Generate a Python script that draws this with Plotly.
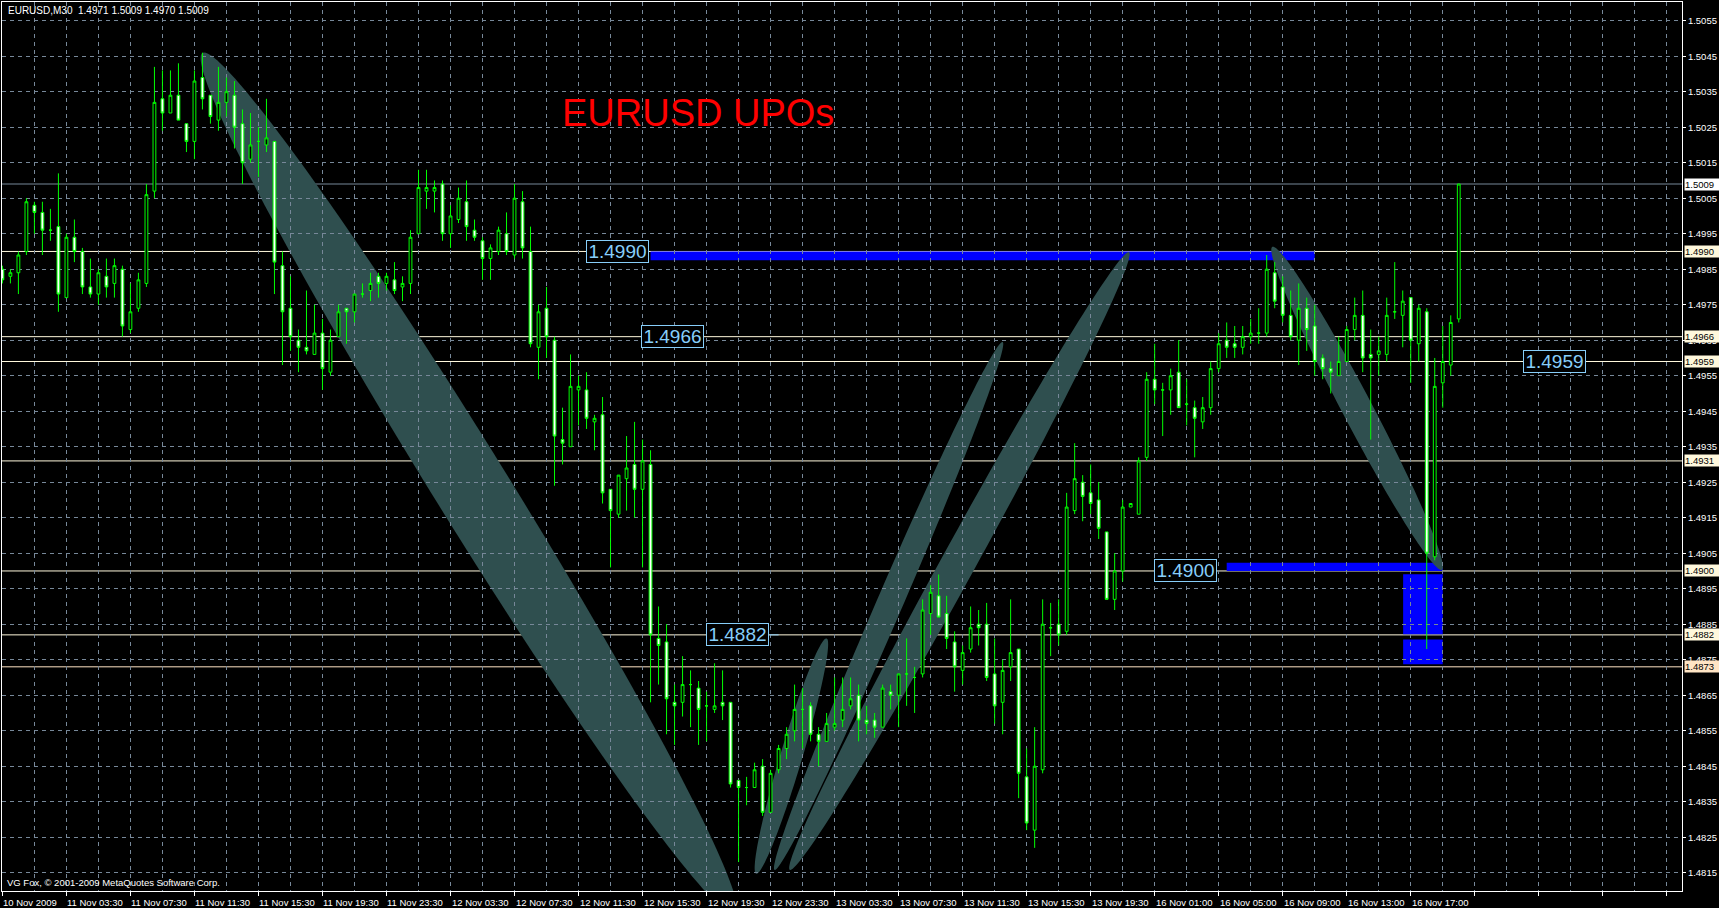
import math
import plotly.graph_objects as go

# ---------------- data ----------------
OPEN = [1.4985,1.4983,1.4984,1.4990,1.5003,1.5001,1.4996,1.4997,1.4977,1.4994,
        1.4990,1.4980,1.4978,1.4983,1.4981,1.4985,1.4968,1.4974,1.4981,1.5007,
        1.5033,1.5029,1.5034,1.5026,1.5021,1.5039,1.5034,1.5027,1.5032,1.5034,
        1.5026,1.5016,1.5021,1.5020,1.5021,1.4986,1.4974,1.4965,1.4963,1.4961,
        1.4967,1.4956,1.4966,1.4974,1.4973,1.4978,1.4979,1.4983,1.4981,1.4982,
        1.4980,1.4981,1.4995,1.5007,1.5007,1.5009,1.4995,1.4999,1.5004,1.4996,
        1.4993,1.4988,1.4990,1.4995,1.4989,1.5004,1.4990,1.4963,1.4974,1.4965,
        1.4937,1.4935,1.4951,1.4951,1.4942,1.4944,1.4923,1.4916,1.4926,1.4930,
        1.4923,1.4930,1.4881,1.4880,1.4863,1.4863,1.4868,1.4867,1.4862,1.4861,
        1.4863,1.4863,1.4841,1.4839,1.4839,1.4845,1.4832,1.4844,1.4850,1.4855,
        1.4861,1.4862,1.4854,1.4852,1.4856,1.4858,1.4862,1.4865,1.4858,1.4858,
        1.4856,1.4866,1.4865,1.4871,1.4870,1.4871,1.4888,1.4893,1.4888,1.4880,
        1.4872,1.4878,1.4885,1.4885,1.4871,1.4863,1.4873,1.4878,1.4842,1.4827,
        1.4844,1.4884,1.4885,1.4883,1.4917,1.4925,1.4922,1.4920,1.4911,1.4892,
        1.4900,1.4918,1.4916,1.4932,1.4954,1.4951,1.4951,1.4956,1.4947,1.4946,
        1.4942,1.4946,1.4957,1.4965,1.4964,1.4963,1.4966,1.4967,1.4967,1.4984,
        1.4980,1.4972,1.4965,1.4974,1.4969,1.4960,1.4957,1.4955,1.4959,1.4968,
        1.4972,1.4961,1.4961,1.4961,1.4973,1.4972,1.4977,1.4964,1.4973,1.4904,
        1.4953,1.4958,1.4971]
HIGH = [1.4986,1.4985,1.4990,1.5005,1.5004,1.5004,1.5002,1.5012,1.4995,1.4999,
        1.4991,1.4988,1.4985,1.4988,1.4988,1.4986,1.4981,1.4984,1.5009,1.5042,
        1.5041,1.5041,1.5043,1.5026,1.5041,1.5046,1.5034,1.5042,1.5039,1.5038,
        1.5030,1.5029,1.5025,1.5033,1.5021,1.4990,1.4983,1.4968,1.4979,1.4975,
        1.4971,1.4968,1.4975,1.4974,1.4978,1.4981,1.4984,1.4984,1.4984,1.4987,
        1.4983,1.4996,1.5013,1.5013,1.5010,1.5010,1.5003,1.5008,1.5010,1.4999,
        1.4994,1.4992,1.4997,1.5001,1.5009,1.5007,1.4997,1.4975,1.4980,1.4966,
        1.4946,1.4961,1.4955,1.4956,1.4944,1.4949,1.4923,1.4927,1.4938,1.4942,
        1.4937,1.4934,1.4890,1.4885,1.4868,1.4876,1.4872,1.4869,1.4866,1.4874,
        1.4872,1.4863,1.4841,1.4842,1.4846,1.4847,1.4844,1.4851,1.4856,1.4868,
        1.4867,1.4863,1.4856,1.4860,1.4870,1.4870,1.4870,1.4868,1.4862,1.4860,
        1.4868,1.4868,1.4871,1.4881,1.4873,1.4892,1.4896,1.4899,1.4893,1.4883,
        1.4879,1.4890,1.4889,1.4891,1.4881,1.4875,1.4892,1.4878,1.4850,1.4856,
        1.4892,1.4891,1.4892,1.4922,1.4936,1.4927,1.4930,1.4925,1.4911,1.4905,
        1.4920,1.4919,1.4932,1.4956,1.4964,1.4953,1.4957,1.4965,1.4954,1.4948,
        1.4949,1.4959,1.4967,1.4970,1.4969,1.4969,1.4971,1.4974,1.4989,1.4987,
        1.4983,1.4979,1.4981,1.4977,1.4975,1.4961,1.4959,1.4966,1.4969,1.4977,
        1.4979,1.4968,1.4966,1.4977,1.4987,1.4979,1.4977,1.4975,1.4974,1.4960,
        1.4969,1.4972,1.5009]
LOW = [1.4981,1.4981,1.4978,1.4989,1.4995,1.4989,1.4993,1.4973,1.4977,1.4987,
       1.4978,1.4977,1.4975,1.4977,1.4977,1.4966,1.4967,1.4973,1.4980,1.5005,
       1.5024,1.5029,1.5027,1.5018,1.5016,1.5030,1.5026,1.5024,1.5028,1.5019,
       1.5009,1.5015,1.5011,1.5018,1.4978,1.4958,1.4962,1.4956,1.4961,1.4961,
       1.4951,1.4955,1.4966,1.4964,1.4970,1.4977,1.4976,1.4977,1.4979,1.4978,
       1.4976,1.4978,1.4995,1.5002,1.5001,1.4993,1.4991,1.4998,1.4993,1.4993,
       1.4982,1.4982,1.4989,1.4989,1.4988,1.4988,1.4963,1.4954,1.4960,1.4924,
       1.4930,1.4935,1.4941,1.4940,1.4934,1.4919,1.4901,1.4915,1.4917,1.4915,
       1.4901,1.4863,1.4868,1.4854,1.4851,1.4859,1.4856,1.4851,1.4852,1.4860,
       1.4858,1.4839,1.4818,1.4834,1.4839,1.4831,1.4832,1.4843,1.4847,1.4852,
       1.4850,1.4852,1.4845,1.4852,1.4855,1.4856,1.4861,1.4852,1.4854,1.4853,
       1.4856,1.4861,1.4856,1.4862,1.4860,1.4870,1.4882,1.4887,1.4878,1.4866,
       1.4868,1.4877,1.4879,1.4869,1.4857,1.4854,1.4869,1.4836,1.4827,1.4822,
       1.4843,1.4876,1.4879,1.4882,1.4916,1.4914,1.4916,1.4909,1.4892,1.4889,
       1.4897,1.4918,1.4916,1.4931,1.4947,1.4938,1.4944,1.4946,1.4941,1.4932,
       1.4940,1.4944,1.4956,1.4960,1.4960,1.4961,1.4964,1.4964,1.4966,1.4974,
       1.4970,1.4965,1.4958,1.4962,1.4955,1.4954,1.4950,1.4955,1.4959,1.4965,
       1.4956,1.4937,1.4955,1.4959,1.4971,1.4963,1.4953,1.4959,1.4878,1.4903,
       1.4946,1.4955,1.4970]
CLOSE = [1.4982,1.4984,1.4989,1.5004,1.5001,1.4996,1.4996,1.4978,1.4994,1.4990,
         1.4980,1.4978,1.4984,1.4980,1.4986,1.4969,1.4973,1.4982,1.5006,1.5032,
         1.5029,1.5034,1.5027,1.5021,1.5038,1.5033,1.5028,1.5032,1.5035,1.5025,
         1.5015,1.5020,1.5021,1.5022,1.4987,1.4973,1.4966,1.4963,1.4962,1.4967,
         1.4957,1.4965,1.4973,1.4973,1.4978,1.4978,1.4981,1.4981,1.4983,1.4979,
         1.4981,1.4994,1.5008,1.5008,1.5008,1.4995,1.5000,1.5005,1.4997,1.4994,
         1.4988,1.4991,1.4996,1.4990,1.5005,1.4991,1.4964,1.4973,1.4966,1.4938,
         1.4936,1.4952,1.4952,1.4943,1.4943,1.4922,1.4917,1.4927,1.4929,1.4923,
         1.4931,1.4882,1.4879,1.4864,1.4862,1.4868,1.4868,1.4861,1.4862,1.4862,
         1.4862,1.4840,1.4839,1.4839,1.4844,1.4832,1.4843,1.4850,1.4854,1.4861,
         1.4861,1.4854,1.4852,1.4857,1.4857,1.4861,1.4864,1.4858,1.4857,1.4856,
         1.4867,1.4865,1.4871,1.4871,1.4870,1.4889,1.4894,1.4887,1.4881,1.4873,
         1.4877,1.4884,1.4884,1.4870,1.4862,1.4872,1.4877,1.4843,1.4829,1.4845,
         1.4885,1.4884,1.4882,1.4918,1.4926,1.4921,1.4919,1.4912,1.4892,1.4900,
         1.4918,1.4919,1.4931,1.4954,1.4951,1.4951,1.4955,1.4946,1.4947,1.4943,
         1.4946,1.4957,1.4964,1.4963,1.4963,1.4966,1.4967,1.4967,1.4985,1.4976,
         1.4972,1.4966,1.4974,1.4968,1.4959,1.4957,1.4956,1.4959,1.4968,1.4972,
         1.4960,1.4960,1.4962,1.4972,1.4973,1.4976,1.4965,1.4974,1.4905,1.4952,
         1.4959,1.4970,1.5009]
BARS = list(range(len(OPEN)))

TIME_TICK_BARS = list(range(0, 177, 8))
TIME_TICK_LABELS = ["10 Nov 2009", "11 Nov 03:30", "11 Nov 07:30", "11 Nov 11:30",
                    "11 Nov 15:30", "11 Nov 19:30", "11 Nov 23:30", "12 Nov 03:30",
                    "12 Nov 07:30", "12 Nov 11:30", "12 Nov 15:30", "12 Nov 19:30",
                    "12 Nov 23:30", "13 Nov 03:30", "13 Nov 07:30", "13 Nov 11:30",
                    "13 Nov 15:30", "13 Nov 19:30", "16 Nov 01:00", "16 Nov 05:00",
                    "16 Nov 09:00", "16 Nov 13:00", "16 Nov 17:00"]

BID_PRICE = 1.5009
LEVEL_PRICES = [1.4990, 1.4966, 1.4959, 1.4931, 1.4900, 1.4882, 1.4873]

# text labels drawn on the chart (value, time anchor, price anchor)
TEXT_LABEL_VALUES = ["1.4990", "1.4966", "1.4882", "1.4900", "1.4959"]
TEXT_LABEL_BARS = [76.9, 83.8, 91.9, 147.9, 194.0]
TEXT_LABEL_PRICES = [1.4990, 1.4966, 1.4882, 1.4900, 1.4959]

# blue rectangle objects (time1, time2, price1, price2)
RECT_T1 = [81.0, 153.0, 175.05, 175.05]
RECT_T2 = [164.0, 180.0, 180.0, 180.0]
RECT_P1 = [1.4990, 1.49023, 1.48991, 1.48807]
RECT_P2 = [1.49875, 1.4900, 1.48822, 1.48737]

# ellipse objects (axis end points)
ELLIPSE_T1 = [25.0, 94.2, 96.5, 98.4, 158.7]
ELLIPSE_P1 = [1.50459, 1.48147, 1.48158, 1.48158, 1.49913]
ELLIPSE_T2 = [91.6, 103.0, 125.0, 140.8, 179.9]
ELLIPSE_P2 = [1.48033, 1.48810, 1.49645, 1.49898, 1.49003]
ELLIPSE_HALF_WIDTH_PX = [37, 11, 13, 17, 15]

# ---------------- figure ----------------
W, H = 1719, 908
ML, MR, MT, MB = 2, 37, 2, 17
X_RANGE = [-0.05, 209.9]
Y_RANGE = [1.480985, 1.506027]
XPX = (W - ML - MR) / (X_RANGE[1] - X_RANGE[0])
YPX = (H - MT - MB) / (Y_RANGE[1] - Y_RANGE[0])

GREEN = "#00FF00"
GRID = "#778899"
CREAM = "#FFF8DC"
PEACH = "#FFE4C4"
LBLUE = "#87CEFA"
FONT = "Liberation Sans, Arial, sans-serif"


def ellipse_path(t1, p1, t2, p2, hw, n=160):
    x1, y1 = t1 * XPX, -p1 * YPX
    x2, y2 = t2 * XPX, -p2 * YPX
    cx, cy = (x1 + x2) / 2, (y1 + y2) / 2
    dx, dy = x2 - x1, y2 - y1
    L = math.hypot(dx, dy)
    a = L / 2
    ux, uy = dx / L, dy / L
    vx, vy = -uy, ux
    pts = []
    for k in range(n):
        th = 2 * math.pi * k / n
        px = cx + a * math.cos(th) * ux + hw * math.sin(th) * vx
        py = cy + a * math.cos(th) * uy + hw * math.sin(th) * vy
        pts.append((px / XPX, -py / YPX))
    return "M " + " L ".join(f"{x:.4f},{y:.6f}" for x, y in pts) + " Z"


fig = go.Figure()
fig.add_trace(go.Candlestick(
    x=BARS, open=OPEN, high=HIGH, low=LOW, close=CLOSE,
    increasing=dict(line=dict(color=GREEN, width=1), fillcolor="#000000"),
    decreasing=dict(line=dict(color=GREEN, width=1), fillcolor="#FFFFFF"),
    whiskerwidth=0, hoverinfo="skip", showlegend=False,
))

shapes = []
for t1, t2, p1, p2 in zip(RECT_T1, RECT_T2, RECT_P1, RECT_P2):
    shapes.append(dict(type="rect", xref="x", yref="y", x0=t1, x1=t2, y0=p1, y1=p2,
                       fillcolor="#0000FF", line=dict(width=0), layer="below"))
for t1, p1, t2, p2, hw in zip(ELLIPSE_T1, ELLIPSE_P1, ELLIPSE_T2, ELLIPSE_P2, ELLIPSE_HALF_WIDTH_PX):
    shapes.append(dict(type="path", xref="x", yref="y", path=ellipse_path(t1, p1, t2, p2, hw),
                       fillcolor="#2F4F4F", line=dict(width=0), layer="below"))
for p in LEVEL_PRICES:
    shapes.append(dict(type="line", xref="paper", yref="y", x0=0, x1=1, y0=p, y1=p,
                       line=dict(color=PEACH if p == 1.4873 else CREAM, width=1), layer="between"))
shapes.append(dict(type="line", xref="paper", yref="y", x0=0, x1=1, y0=BID_PRICE, y1=BID_PRICE,
                   line=dict(color=GRID, width=1), layer="between"))
shapes.append(dict(type="line", xref="x", yref="y", x0=95.9, x1=97.0, y0=1.4882, y1=1.4882,
                   line=dict(color=LBLUE, width=1), layer="above"))

annotations = []
for b, lab in zip(TIME_TICK_BARS, TIME_TICK_LABELS):
    annotations.append(dict(x=b, xref="x", y=0, yref="paper", text=lab, showarrow=False,
                            xanchor="left", yanchor="middle", yshift=-11.7, xshift=-1,
                            font=dict(family=FONT, size=9.5, color="white")))
for p in [BID_PRICE] + LEVEL_PRICES:
    bg = "#FFFFFF" if p == BID_PRICE else (PEACH if p == 1.4873 else CREAM)
    annotations.append(dict(x=1, xref="paper", y=p, yref="y", text=f"{p:.4f}", showarrow=False,
                            xanchor="left", yanchor="middle", xshift=2, bgcolor=bg,
                            borderpad=0, width=34, height=11, align="left",
                            font=dict(family=FONT, size=9.5, color="black")))
for v, b, p in zip(TEXT_LABEL_VALUES, TEXT_LABEL_BARS, TEXT_LABEL_PRICES):
    annotations.append(dict(x=b, xref="x", y=p, yref="y", text=v, showarrow=False,
                            xanchor="center", yanchor="middle", bgcolor="black",
                            bordercolor=LBLUE, borderwidth=1, borderpad=0, width=61, height=21,
                            font=dict(family=FONT, size=19, color=LBLUE)))
annotations.append(dict(x=69.8, xref="x", y=1.50291, yref="y", text="EURUSD UPOs", showarrow=False,
                        xanchor="left", yanchor="middle", xshift=-1,
                        font=dict(family=FONT, size=38, color="#FF0000")))
annotations.append(dict(x=0, xref="paper", y=1, yref="paper",
                        text="EURUSD,M30  1.4971 1.5009 1.4970 1.5009", showarrow=False,
                        xanchor="left", yanchor="middle", xshift=3.5, yshift=-8.5,
                        font=dict(family=FONT, size=10, color="white")))
annotations.append(dict(x=0, xref="paper", y=0, yref="paper",
                        text="VG Fox, © 2001-2009 MetaQuotes Software Corp.", showarrow=False,
                        xanchor="left", yanchor="middle", xshift=2.5, yshift=8.3,
                        font=dict(family=FONT, size=9.5, color="white")))

fig.update_layout(
    width=W, height=H, margin=dict(l=ML, r=MR, t=MT, b=MB, pad=0),
    paper_bgcolor="black", plot_bgcolor="black", showlegend=False,
    hovermode=False, boxgap=0.5, shapes=shapes, annotations=annotations,
    xaxis=dict(range=X_RANGE, rangeslider=dict(visible=False), tickmode="linear", tick0=0, dtick=8,
               ticks="outside", ticklen=4, tickcolor="white", showticklabels=False,
               showgrid=True, gridcolor=GRID, griddash="4px,4px", gridwidth=1,
               minor=dict(tick0=0, dtick=4, showgrid=True, gridcolor=GRID, griddash="4px,4px", ticks=""),
               zeroline=False, showline=True, linecolor="white", linewidth=1, mirror=True,
               fixedrange=True),
    yaxis=dict(range=Y_RANGE, side="right", tickmode="linear", tick0=1.4815, dtick=0.001,
               tickformat=".4f", ticks="outside", ticklen=3, tickcolor="white",
               tickfont=dict(family=FONT, size=9.5, color="white"),
               showgrid=True, gridcolor=GRID, griddash="4px,4px", gridwidth=1,
               zeroline=False, showline=True, linecolor="white", linewidth=1, mirror=True,
               fixedrange=True),
)

fig.write_html("out.html", config={"displayModeBar": False, "staticPlot": True},
               post_script="document.body.style.margin='0px';document.body.style.padding='0px';"
                           "document.body.style.background='black';document.body.style.overflow='hidden';")
